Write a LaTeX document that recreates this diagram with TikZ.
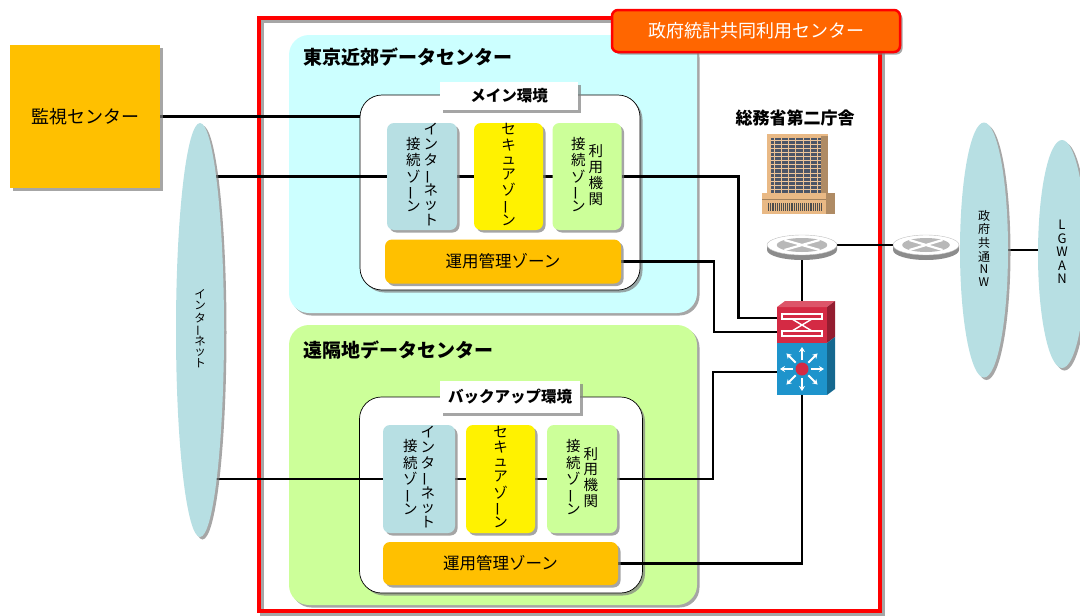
\documentclass[tikz,border=0pt]{standalone}
\usepackage{fontspec}
\setmainfont{Noto Sans CJK JP}
\usepackage{graphicx}
\usetikzlibrary{shapes.geometric,shadows,calc,positioning,arrows.meta}

\definecolor{amber}{HTML}{FFC000}
\definecolor{signal}{HTML}{FF6600}
\definecolor{skyzone}{HTML}{CCFFFF}
\definecolor{limezone}{HTML}{CCFF99}
\definecolor{mist}{HTML}{B7DFE3}
\definecolor{brick}{HTML}{D42A44}
\definecolor{ocean}{HTML}{1E94CC}
\definecolor{sand}{HTML}{E9B985}
\definecolor{glass}{HTML}{4C5566}

\pgfdeclarelayer{back}
\pgfdeclarelayer{wires}
\pgfsetlayers{back,wires,main}

% one column of vertical text, characters separated by \\
\newcommand\tcol[1]{\begin{tabular}{@{}c@{}}#1\end{tabular}}
\newcommand\tbar{\rotatebox[origin=c]{90}{ー}}
\renewcommand\arraystretch{1}

\tikzset{
  raised/.style={drop shadow={shadow xshift=2.5pt, shadow yshift=-2.5pt, fill=black!50, opacity=0.7}},
  region/.style={rounded corners=20pt, raised, minimum width=408},
  envbox/.style={draw=black, line width=0.7pt, fill=white, rounded corners=22pt, raised},
  tag/.style={fill=white, raised, font=\fontsize{15.5}{16}\selectfont\bfseries},
  zone/.style={rounded corners=7pt, raised, font=\fontsize{14.5}{14}\selectfont},
  title/.style={anchor=west, font=\fontsize{19}{19}\selectfont\bfseries},
  cloud/.style={ellipse, fill=mist, raised},
  link/.style={line width=2.8pt, black},
}

\begin{document}
\begin{tikzpicture}[x=1pt, y=-1pt, every node/.style={inner sep=0pt, outer sep=0pt}]
\useasboundingbox (0,0) rectangle (1080,616);
\clip (0,0) rectangle (1080,616);

\begin{pgfonlayer}{back}
  % red frame of the joint centre
  \draw[black!35, line width=4pt] (261.5,20.5) rectangle (882.5,613.5);
  \node[draw=red, line width=4pt, minimum width=621, minimum height=593] (hub) at (569.5,314.5) {};
  % the two data centres
  \node[region, fill=skyzone, minimum height=278] (tokyo) at (493,174) {};
  \node[region, fill=limezone, minimum height=280] (remote) at (493,465) {};
  \node[envbox, minimum width=280, minimum height=195] (mainenv) at (500,192.5) {};
  \node[envbox, minimum width=283, minimum height=196] (backenv) at (501,495) {};
\end{pgfonlayer}

% labels
\node[draw=red, line width=2.5pt, fill=signal, rounded corners=6pt, raised,
      minimum width=288, minimum height=42, text=white,
      font=\fontsize{18}{18}\selectfont] (jointlbl) at (756,31) {政府統計共同利用センター};
\node[title] (tokyottl) at (303,57) {東京近郊データセンター};
\node[title] (remotettl) at (303,350) {遠隔地データセンター};
\node[tag, minimum width=138, minimum height=28] (maintag) at (509,96) {メイン環境};
\node[tag, minimum width=140, minimum height=32] (backtag) at (510,397) {バックアップ環境};

% monitoring centre
\node[fill=amber, raised, minimum width=150, minimum height=143,
      font=\fontsize{18}{18}\selectfont] (mon) at (85,116.5) {監視センター};

% networks
\node[cloud, minimum width=48, minimum height=414, font=\fontsize{11.5}{10}\selectfont] (ie) at (200,330)
  {\tcol{イ\\ン\\タ\\\tbar\\ネ\\ッ\\ト}};
\node[cloud, minimum width=48, minimum height=255, font=\fontsize{12}{12.5}\selectfont] (nw) at (984,250)
  {\tcol{政\\府\\共\\通\\N\\W}};
\node[cloud, minimum width=48, minimum height=228, font=\fontsize{13}{13.5}\selectfont] (lg) at (1062,254)
  {\tcol{L\\G\\W\\A\\N}};

% zones, main environment
\node[zone, fill=mist, minimum width=70, minimum height=107] (inet1) at (422,176.5)
  {\tcol{接\\続\\ゾ\\\tbar\\ン}\hspace{3pt}\tcol{イ\\ン\\タ\\\tbar\\ネ\\ッ\\ト}};
\node[zone, fill=yellow, minimum width=69, minimum height=107] (sec1) at (508.5,176.5)
  {\tcol{セ\\キ\\ュ\\ア\\ゾ\\\tbar\\ン}};
\node[zone, fill=limezone, minimum width=69, minimum height=107] (use1) at (587,176.5)
  {\tcol{接\\続\\ゾ\\\tbar\\ン}\hspace{3pt}\tcol{利\\用\\機\\関}};
\node[zone, fill=amber, minimum width=236, minimum height=44, font=\fontsize{16.5}{17}\selectfont] (ops1) at (503,261.5)
  {運用管理ゾーン};

% zones, backup environment
\node[zone, fill=mist, minimum width=72, minimum height=108] (inet2) at (419,479)
  {\tcol{接\\続\\ゾ\\\tbar\\ン}\hspace{3pt}\tcol{イ\\ン\\タ\\\tbar\\ネ\\ッ\\ト}};
\node[zone, fill=yellow, minimum width=69, minimum height=108] (sec2) at (500.5,479)
  {\tcol{セ\\キ\\ュ\\ア\\ゾ\\\tbar\\ン}};
\node[zone, fill=limezone, minimum width=70, minimum height=108] (use2) at (582,479)
  {\tcol{接\\続\\ゾ\\\tbar\\ン}\hspace{3pt}\tcol{利\\用\\機\\関}};
\node[zone, fill=amber, minimum width=235, minimum height=43, font=\fontsize{16.5}{17}\selectfont] (ops2) at (500.5,563.5)
  {運用管理ゾーン};

% ministry building
\node[font=\fontsize{17}{17}\selectfont\bfseries] (bldgttl) at (795,118) {総務省第二庁舎};
\node[minimum width=73, minimum height=81] (bldg) at (798.5,173.5) {};
\begin{scope}[shift={(bldg.north west)}]
  \fill[sand] (5,1) rectangle (66,66);
  \fill[glass] (9,5) rectangle (59,64);
  \foreach \r in {0,...,13}
    \draw[sand!80, line width=0.6pt] (9,{7+\r*4.1}) -- (59,{7+\r*4.1});
  \foreach \c in {0,...,6}
    \draw[sand!90, line width=0.9pt] ({12+\c*7.3},5) -- ({12+\c*7.3},64);
  \fill[sand!75!black] (59,3) rectangle (66,66);
  \fill[sand] (0,60) rectangle (73,81);
  \fill[sand!75!black] (64,60) rectangle (73,81);
  \draw[sand!70!black, line width=0.6pt] (0,66) -- (64,66);
  \foreach \k in {0,...,28}
    \draw[black!70, line width=0.6pt] ({6+\k*1.9},70) -- ({6+\k*1.9},78);
\end{scope}

% routers
\foreach \rt/\cx/\rx in {r1/802/35, r2/926/33} {
  \begin{scope}[shift={(\cx,245)}]
    \fill[black!45] (-\rx,0) -- (-\rx,5) arc[start angle=180, end angle=0, x radius=\rx, y radius=10] -- (\rx,0) -- cycle;
    \node[ellipse, draw=black!25, fill=white, minimum width=2*\rx, minimum height=20] (\rt) at (0,0) {};
    \fill[black!28] (0,0) ellipse[x radius={0.72*\rx}, y radius=7];
    \draw[white, line width=2.2pt] ({-0.5*\rx},-5) -- ({0.5*\rx},5) ({-0.5*\rx},5) -- ({0.5*\rx},-5);
  \end{scope}
}

% core switch
\node[fill=brick, minimum width=50, minimum height=36] (swr) at (802,325) {};
\node[fill=ocean, minimum width=50, minimum height=52] (swb) at (802,369) {};
\fill[brick!80!white] (swr.north west) -- ++(8,-6) -- ++(50,0) -- (swr.north east) -- cycle;
\fill[brick!70!black] (swr.north east) -- ++(8,-6) -- ($(swr.south east)+(8,-6)$) -- (swr.south east) -- cycle;
\fill[ocean!70!black] (swb.north east) -- ++(8,-6) -- ($(swb.south east)+(8,-6)$) -- (swb.south east) -- cycle;
\draw[white, line width=1.2pt] (782,314) rectangle (822,319) (782,331) rectangle (822,336);
\draw[white, line width=1.4pt] (792,319) -- (812,331) (812,319) -- (792,331);
\foreach \a in {0,45,...,315}
  \draw[white, line width=2pt, -{Stealth[length=5pt, width=6pt]}] (swb.center) ++(\a:9) -- ++(\a:13);
\fill[brick] (swb.center) circle[radius=6.5pt];

\begin{pgfonlayer}{wires}
  \draw[link] (mon.east) -- (mon.east -| mainenv.west);
  \draw[link] (ie.center |- inet1.west) -- (inet1.west);
  \draw[link] (ie.center |- inet2.west) -- (inet2.west);
  \foreach \from/\to in {inet1/sec1, sec1/use1, inet2/sec2, sec2/use2}
    \draw[link] (\from) -- (\to);
  \draw[link] (use1.east) -- ++(117,0) |- ($(swr.west)+(0,-7)$);
  \draw[link] (ops1.east) -- ++(93,0) |- ($(swr.west)+(0,7)$);
  \draw[link] (use2.east) -- ++(96,0) |- ($(swb.west)+(0,3)$);
  \draw[link] (ops2.east) -| (swb.south);
  \draw[link] (r1.south) -- (swr.north);
  \draw[link] (r1.east) -- (r2.west);
  \draw[link] (nw.east) -- (nw.east -| lg.west);
\end{pgfonlayer}
\end{tikzpicture}
\end{document}
